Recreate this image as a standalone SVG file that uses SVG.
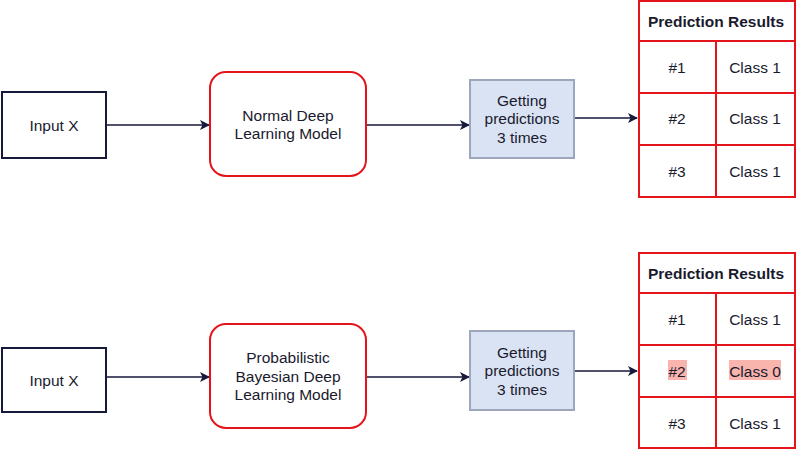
<svg xmlns="http://www.w3.org/2000/svg" width="796" height="450" viewBox="0 0 796 450">
<style>
text{font-family:"Liberation Sans",Arial,sans-serif;font-size:15.5px;fill:#1a1a2e;text-anchor:middle;dominant-baseline:central}
.b{font-weight:bold}
.inp{fill:#fff;stroke:#16193a;stroke-width:2}
.mdl{fill:#fff;stroke:#e3151a;stroke-width:2}
.gp{fill:#dae3f3;stroke:#9ea6bd;stroke-width:2}
.cell{fill:#fff;stroke:#e3151a;stroke-width:2}
.hl{fill:#f8b4ad}
.c{stroke:#16193a;stroke-width:1.3;fill:none}
</style>
<defs>
<marker id="ah" viewBox="0 0 10 10" refX="9" refY="5" markerWidth="10" markerHeight="10" markerUnits="userSpaceOnUse" orient="auto">
<path d="M0,0 L10,5 L0,10 L2.5,5 Z" fill="#16193a"/>
</marker>
</defs>
<g id="connectors">
<line class="c" x1="107" y1="125" x2="209" y2="125" marker-end="url(#ah)"/>
<line class="c" x1="367" y1="125" x2="469" y2="125" marker-end="url(#ah)"/>
<line class="c" x1="575" y1="118" x2="637" y2="118" marker-end="url(#ah)"/>
<line class="c" x1="107" y1="377" x2="209" y2="377" marker-end="url(#ah)"/>
<line class="c" x1="367" y1="377" x2="469" y2="377" marker-end="url(#ah)"/>
<line class="c" x1="575" y1="371" x2="637" y2="371" marker-end="url(#ah)"/>
</g>
<g id="input1"><rect class="inp" x="2" y="92" width="104" height="66"/><text x="54" y="125">Input X</text></g>
<g id="model1"><rect class="mdl" x="210" y="72" width="156" height="104" rx="16"/><text x="288" y="115">Normal Deep</text><text x="288" y="133">Learning Model</text></g>
<g id="pred1"><rect class="gp" x="470" y="80" width="104" height="78"/><text x="522" y="100">Getting</text><text x="522" y="118">predictions</text><text x="522" y="137">3 times</text></g>
<g id="table1">
<rect class="cell" x="639" y="1" width="156" height="40"/><text class="b" x="716" y="21">Prediction Results</text>
<rect class="cell" x="639" y="41" width="77" height="52"/><text x="677" y="67">#1</text>
<rect class="cell" x="716" y="41" width="79" height="52"/><text x="755" y="67">Class 1</text>
<rect class="cell" x="639" y="93" width="77" height="52"/><text x="677" y="118">#2</text>
<rect class="cell" x="716" y="93" width="79" height="52"/><text x="755" y="118">Class 1</text>
<rect class="cell" x="639" y="145" width="77" height="52"/><text x="677" y="171">#3</text>
<rect class="cell" x="716" y="145" width="79" height="52"/><text x="755" y="171">Class 1</text>
</g>
<g id="input2"><rect class="inp" x="2" y="348" width="104" height="64"/><text x="54" y="380">Input X</text></g>
<g id="model2"><rect class="mdl" x="210" y="324" width="156" height="104" rx="16"/><text x="288" y="357.5">Probabilistic</text><text x="288" y="376">Bayesian Deep</text><text x="288" y="394.5">Learning Model</text></g>
<g id="pred2"><rect class="gp" x="470" y="331" width="104" height="79"/><text x="522" y="352">Getting</text><text x="522" y="370">predictions</text><text x="522" y="389">3 times</text></g>
<g id="table2">
<rect class="cell" x="639" y="253" width="156" height="40"/><text class="b" x="716" y="273">Prediction Results</text>
<rect class="cell" x="639" y="293" width="77" height="52"/><text x="677" y="319">#1</text>
<rect class="cell" x="716" y="293" width="79" height="52"/><text x="755" y="319">Class 1</text>
<rect class="cell" x="639" y="345" width="77" height="52"/><rect class="hl" x="668" y="360" width="19" height="20"/><text x="677" y="371">#2</text>
<rect class="cell" x="716" y="345" width="79" height="52"/><rect class="hl" x="729" y="360" width="52" height="20"/><text x="755" y="371">Class 0</text>
<rect class="cell" x="639" y="397" width="77" height="51"/><text x="677" y="423">#3</text>
<rect class="cell" x="716" y="397" width="79" height="51"/><text x="755" y="423">Class 1</text>
</g>
</svg>
